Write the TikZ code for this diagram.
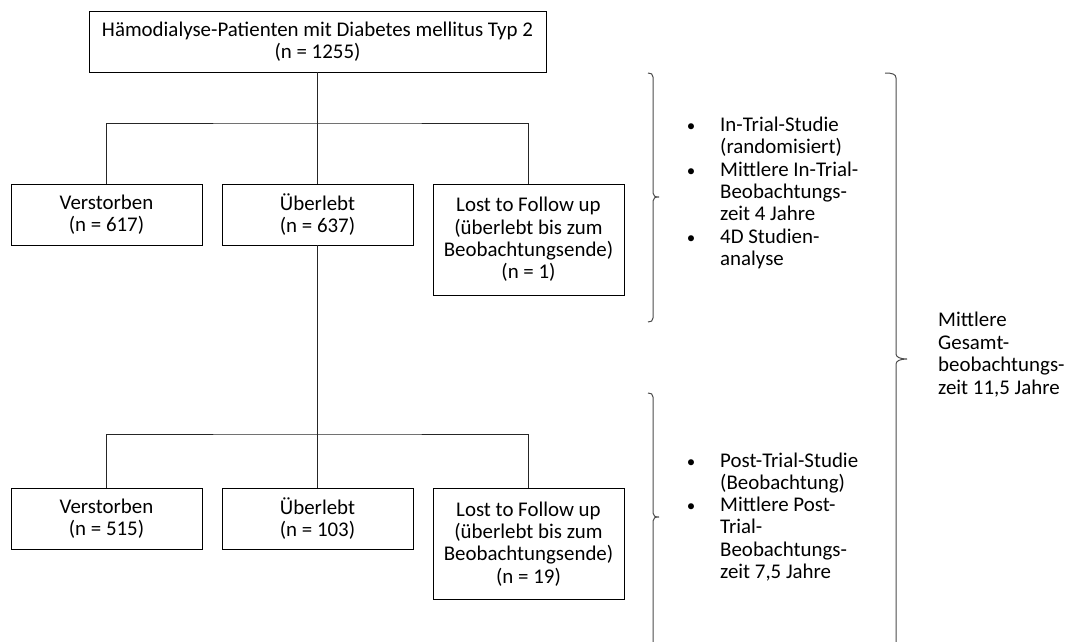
\documentclass[tikz,border=0pt]{standalone}
\usepackage{fontspec}
\setmainfont{Carlito}
\newcommand\dfont{\fontsize{20.9}{22.3}\selectfont}
\begin{document}
\begin{tikzpicture}[x=1pt,y=-1pt,
  box/.style={draw=black,line width=0.9pt,rectangle,minimum width=191pt,minimum height=61pt,inner sep=0pt,align=center,font=\dfont},
  conn/.style={draw=black!85,line width=0.9pt},
  brace/.style={draw=black!70,line width=1pt},
  txt/.style={anchor=base west,inner sep=0pt,font=\dfont},
  bul/.style={anchor=base,inner sep=0pt,font=\fontsize{17}{20}\selectfont}]
\useasboundingbox (0,0) rectangle (1065,642);
% boxes
\node[box,minimum width=457pt] (top) at (317.5,41.5) {Hämodialyse-Patienten mit Diabetes mellitus Typ 2\\(n = 1255)};
\node[box] (v1) at (106.5,214.5) {Verstorben\\(n = 617)};
\node[box] (u1) at (317.5,214.5) {Überlebt\\(n = 637)};
\node[box,minimum height=111pt] (l1) at (528.5,239.5) {Lost to Follow up\\(überlebt bis zum\\Beobachtungsende)\\(n = 1)};
\node[box] (v2) at (106.5,518.5) {Verstorben\\(n = 515)};
\node[box] (u2) at (317.5,518.5) {Überlebt\\(n = 103)};
\node[box,minimum height=111pt] (l2) at (528.5,544) {Lost to Follow up\\(überlebt bis zum\\Beobachtungsende)\\(n = 19)};
% connectors
\coordinate (j1) at (317.5,123);
\coordinate (j2) at (317.5,434);
\draw[conn] (top.south) -- (u1.north);
\draw[conn] (v1.north) |- (j1) -| (l1.north);
\draw[conn] (u1.south) -- (u2.north);
\draw[conn] (v2.north) |- (j2) -| (l2.north);
% braces
\draw[brace] (648,73) .. controls (651,73) and (653,74) .. (653,77) -- (653,193)
  .. controls (653,196) and (655,197) .. (659,197)
  .. controls (655,197) and (653,198) .. (653,201) -- (653,318)
  .. controls (653,321) and (651,322) .. (648,322);
\draw[brace] (648,393) .. controls (651,393) and (653,394) .. (653,397) -- (653,513)
  .. controls (653,516) and (655,517) .. (659,517)
  .. controls (655,517) and (653,518) .. (653,521) -- (653,650);
\draw[brace] (885,73) .. controls (892,73) and (896,74) .. (896,78) -- (896,354)
  .. controls (896,357) and (900,359) .. (907,359)
  .. controls (900,359) and (896,361) .. (896,364) -- (896,650);
% first list
\node[bul] (b11) at (691,131.5) {•};
\node[txt] (a11) at (720,131.5) {In-Trial-Studie};
\node[txt] (a12) at (720,153.8) {(randomisiert)};
\node[bul] (b12) at (691,176.1) {•};
\node[txt] (a13) at (720,176.1) {Mittlere In-Trial-};
\node[txt] (a14) at (720,198.4) {Beobachtungs-};
\node[txt] (a15) at (720,220.7) {zeit 4 Jahre};
\node[bul] (b13) at (691,243) {•};
\node[txt] (a16) at (720,243) {4D Studien-};
\node[txt] (a17) at (720,265.3) {analyse};
% second list
\node[bul] (b21) at (691,467) {•};
\node[txt] (a21) at (720,467) {Post-Trial-Studie};
\node[txt] (a22) at (720,489.3) {(Beobachtung)};
\node[bul] (b22) at (691,511.6) {•};
\node[txt] (a23) at (720,511.6) {Mittlere Post-};
\node[txt] (a24) at (720,533.9) {Trial-};
\node[txt] (a25) at (720,556.2) {Beobachtungs-};
\node[txt] (a26) at (720,578.5) {zeit 7,5 Jahre};
% total
\node[txt] (m1) at (938,326.5) {Mittlere};
\node[txt] (m2) at (938,349) {Gesamt-};
\node[txt] (m3) at (938,371.5) {beobachtungs-};
\node[txt] (m4) at (938,394) {zeit 11,5 Jahre};
\end{tikzpicture}
\end{document}
